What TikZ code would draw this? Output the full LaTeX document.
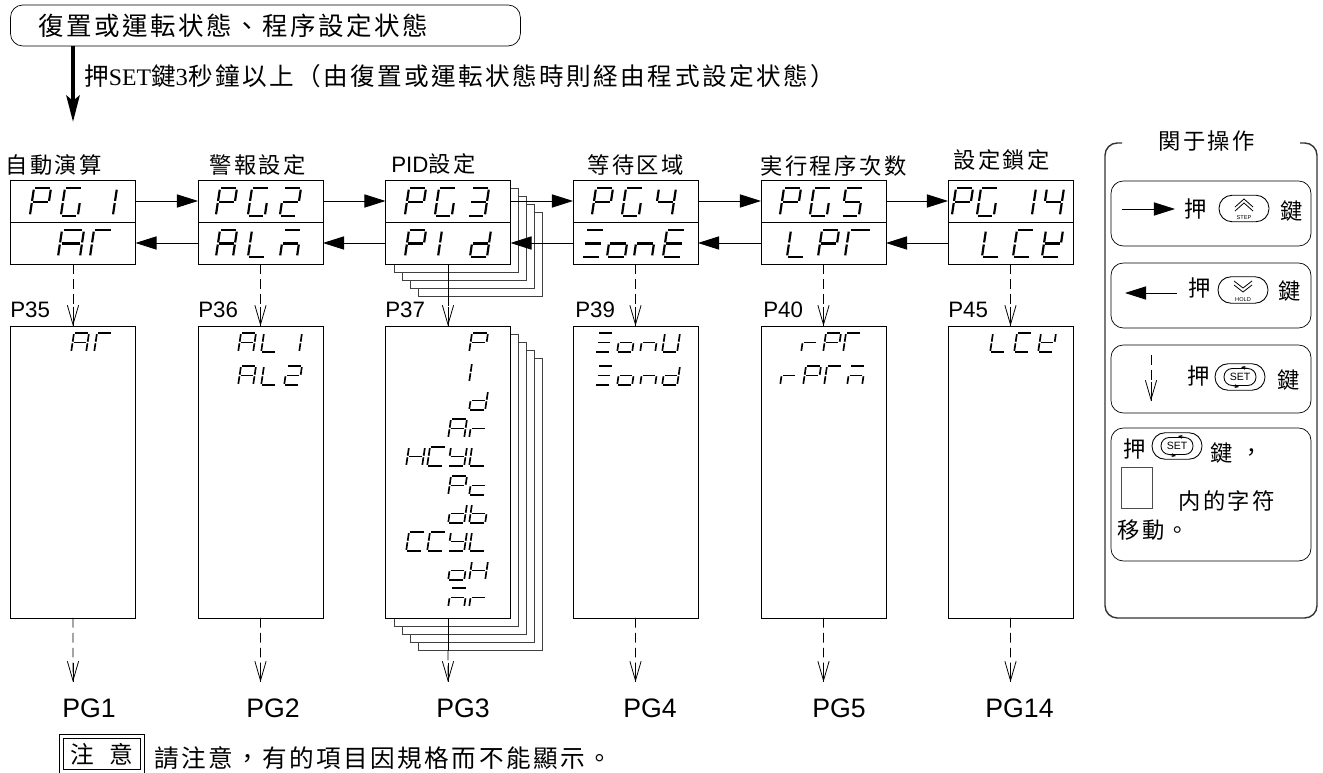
\documentclass[tikz,border=0pt]{standalone}
\usepackage{fontspec}
\usetikzlibrary{arrows.meta}
\setmainfont{Liberation Sans}
\newfontfamily\cjk[LetterSpace=11]{Noto Sans CJK TC}
\newfontfamily\cjkwide[LetterSpace=10]{Noto Sans CJK TC}
\newfontfamily\serifrm{Liberation Serif}

% seven segments: a top, b c right, d bottom, e f left, g middle
\newcommand{\sega}{\draw[segline] (.08,0) -- (.92,0);}
\newcommand{\segb}{\draw[segline] (1,.06) -- (1,.46);}
\newcommand{\segc}{\draw[segline] (1,.54) -- (1,.94);}
\newcommand{\segd}{\draw[segline] (.08,1) -- (.92,1);}
\newcommand{\sege}{\draw[segline] (0,.54) -- (0,.94);}
\newcommand{\segf}{\draw[segline] (0,.06) -- (0,.46);}
\newcommand{\segg}{\draw[segline] (.08,.5) -- (.92,.5);}
\newcommand{\segdraw}[1]{\ifx#1.\else\csname seg#1\endcsname\expandafter\segdraw\fi}
% width, height, top edge, list of left edge/segments
\newcommand{\sevenseg}[4]{%
  \foreach \segx/\segcode in {#4}{
    \begin{scope}[shift={(\segx,#3)},xslant=0.15,xscale=#1,yscale=#2]
      \expandafter\segdraw\segcode.
    \end{scope}
  }}

\tikzset{
  segline/.style={line width=1.25pt},
  captext/.style={font=\fontsize{12.7}{15}\selectfont,anchor=west,inner sep=0pt},
  bigtext/.style={font=\fontsize{14}{17}\selectfont,anchor=west,inner sep=0pt},
  pgcap/.style={font=\fontsize{15.2}{18}\selectfont,anchor=west,inner sep=0pt},
  showcell/.style={draw,anchor=north west,minimum width=2.5cm,minimum height=0.84cm,inner sep=0pt,outer sep=0pt,fill=white},
  listcard/.style={draw,anchor=north west,minimum width=2.5cm,minimum height=5.84cm,inner sep=0pt,outer sep=0pt,fill=white},
  pidcard/.style={draw=black!75,anchor=north west,minimum width=2.5cm,minimum height=1.68cm,inner sep=0pt,fill=white},
  movearrow/.style={-{Triangle[length=12pt,width=7.5pt]},line width=0.5pt},
  gotoarrow/.style={-{Straight Barb[length=11pt,width=6.4pt]},line width=0.45pt,dash pattern=on 5.5pt off 3pt},
  thinline/.style={line width=0.45pt},
  helpbox/.style={draw,anchor=north west,minimum width=4cm,rounded corners=7pt,inner sep=0pt,outer sep=0pt},
  keyshape/.style={draw,minimum width=1cm,minimum height=0.53cm,rounded corners=7.4pt,inner sep=0pt,line width=0.5pt},
  stepkey/.pic={
    \node[keyshape] (-body) at (0,0) {};
    \draw[thinline] (-9,-1.5) -- (0,-9.5) -- (9,-1.5);
    \draw[thinline] (-9,2.5) -- (0,-5.5) -- (9,2.5);
    \node[font=\fontsize{3.2}{4}\selectfont,inner sep=0pt] (-text) at (0,9.3) {STEP};
  },
  holdkey/.pic={
    \node[keyshape] (-body) at (0,0) {};
    \draw[thinline] (-9,-9) -- (0,-2) -- (9,-9);
    \draw[thinline] (-9,-5) -- (0,2) -- (9,-5);
    \node[font=\fontsize{3.2}{4}\selectfont,inner sep=0pt] (-text) at (0,9.3) {HOLD};
  },
  setkey/.pic={
    \node[keyshape] (-body) at (0,0) {};
    \node[draw,minimum width=0.64cm,minimum height=0.34cm,rounded corners=4.7pt,inner sep=0pt,line width=0.5pt,font=\fontsize{6}{7}\selectfont] (-text) at (0,0) {SET};
    \draw[-{Stealth[length=2.5pt,width=2.2pt]},thinline] (8,-8.5) -- (1,-10);
    \draw[-{Stealth[length=2.5pt,width=2.2pt]},thinline] (-8,8.5) -- (-1,10);
  }
}

\begin{document}
\begin{tikzpicture}[x=0.02cm,y=-0.02cm]
  \useasboundingbox (0,0) rectangle (1323,773);

  % Entrada
  \node[draw,anchor=north west,minimum width=10.2cm,minimum height=0.82cm,rounded corners=7pt,inner sep=0pt,outer sep=0pt] (topbox) at (10.5,5) {};
  \node[bigtext,font=\fontsize{14.5}{17}\selectfont] (toptext) at (38,26) {\cjkwide 復置或運転状態、程序設定状態};
  \coordinate (enter) at (73,122);
  \draw[-{Stealth[length=15pt,width=7.5pt,inset=3pt]},line width=2.5pt] (topbox.south -| enter) -- (enter);
  \node[bigtext] (entertext) at (84,76) {{\cjkwide 押}{\serifrm\fontsize{13.5}{15}\selectfont SET}{\cjkwide 鍵}{\serifrm 3}{\cjkwide 秒鐘以上（由復置或運転状態時則経由程式設定状態）}};

  % Titols
  \node[captext] (capA) at (5,165) {\cjk 自動演算};
  \node[captext] (capB) at (209,165) {\cjk 警報設定};
  \node[captext] (capC) at (391,164) {PID{\cjk 設定}};
  \node[captext] (capD) at (587,165) {\cjk 等待区域};
  \node[captext] (capE) at (760,166) {\cjk 実行程序次数};
  \node[captext] (capF) at (953,160) {\cjk 設定鎖定};

  % Cartes apilades de PG3
  \foreach \k in {4,3,2,1}{
    \node[pidcard] (pidcard\k) at ({385.5+8*\k},{180+8*\k}) {};
    \node[pidcard,minimum height=5.84cm] (listcard\k) at ({385.5+8*\k},{326+8*\k}) {};
  }

  % Columnes
  \foreach \n/\x in {1/10.5,2/198,3/385.5,4/573,5/761,14/948}{
    \node[showcell] (pg\n) at (\x,180) {};
    \node[showcell] (sub\n) at (\x,222) {};
    \node[listcard] (list\n) at (\x,326) {};
    \coordinate (end\n) at ({\x+62.5},682);
  }
  \node[captext] (pageA) at (10,310) {P35};
  \node[captext] (pageB) at (198,310) {P36};
  \node[captext] (pageC) at (385,310) {P37};
  \node[captext] (pageD) at (575,310) {P39};
  \node[captext] (pageE) at (763,310) {P40};
  \node[captext] (pageF) at (948,310) {P45};

  % Fletxes horitzontals
  \foreach \a/\b in {1/2,2/3,3/4,4/5,5/14}{
    \draw[movearrow] (pg\a) -- (pg\b);
    \draw[movearrow] (sub\b) -- (sub\a);
  }

  % Fletxes verticals
  \foreach \n in {1,2,4,5,14}{
    \draw[gotoarrow] (sub\n) -- (list\n);
    \draw[thinline] ([yshift=11pt]list\n.north) -- (list\n.north);
    \draw[gotoarrow] (list\n) -- (end\n);
    \draw[thinline] ([yshift=11pt]end\n) -- (end\n);
  }
  \draw[thinline] (sub3) -- (sub3 |- pidcard4.south);
  \draw[gotoarrow] (sub3 |- pidcard4.south) -- (list3);
  \draw[thinline] ([yshift=11pt]list3.north) -- (list3.north);
  \draw[thinline] (list3) -- (list3 |- listcard4.south);
  \draw[gotoarrow] (list3 |- listcard4.south) -- (end3);
  \draw[thinline] ([yshift=11pt]end3) -- (end3);

  % Pantalles de dalt
  \sevenseg{17}{28}{188}{34/abefg,65/acdef,100/bc}
  \sevenseg{22}{27}{230}{62/abcefg}
  \sevenseg{18}{27}{230}{94/aef}
  \sevenseg{17}{28}{188}{220/abefg,252/acdef,284/abdeg}
  \sevenseg{17}{27}{230}{220/abcefg,252/def,284/aceg}
  \sevenseg{17}{28}{188}{409/abefg,439/acdef,472/abcdg}
  \sevenseg{17}{27}{230}{409/abefg,442/ef,474/bcdeg}
  \sevenseg{17}{28}{188}{596/abefg,626/acdef,659/bcfg}
  \sevenseg{18}{27}{230}{586/adg,611/cdeg,638/ceg,667/adefg}
  \sevenseg{17}{28}{188}{784/abefg,814/acdef,846/acdfg}
  \sevenseg{17}{27}{230}{791/def,822/abefg}
  \sevenseg{23}{27}{230}{849/aef}
  \sevenseg{17}{28}{188}{956/abefg,981/acdef,1019/bc,1047/bcfg}
  \sevenseg{17}{27}{230}{986/def,1017/adef,1046/bdefg}

  % Pantalles de les llistes
  \begin{scope}[segline/.style={line width=0.95pt}]
    \sevenseg{15}{19}{333}{74/abcefg,97/aef}
    \sevenseg{15}{19}{333}{241/abcefg,264/def,287/bc}
    \sevenseg{15}{19}{366}{241/abcefg,264/def,287/abdeg}
    \sevenseg{16}{19}{333}{472/abefg}
    \sevenseg{16}{19}{363}{472/ef}
    \sevenseg{16}{19}{391}{472/bcdeg}
    \sevenseg{16}{19}{419}{451/abcefg,472/eg}
    \sevenseg{16}{19}{447}{409/bcefg,430/adef,451/bcdfg,472/def}
    \sevenseg{16}{19}{476}{451/abefg,472/deg}
    \sevenseg{16}{19}{504}{451/bcdeg,472/cdefg}
    \sevenseg{16}{19}{532}{409/adef,430/adef,451/bcdfg,472/def}
    \sevenseg{16}{19}{561}{451/cdeg,472/bcefg}
    \sevenseg{16}{19}{588}{451/aceg,472/eg}
    \sevenseg{15}{19}{333}{598/adg,620/cdeg,643/ceg,665/bcdef}
    \sevenseg{15}{19}{366}{598/adg,620/cdeg,643/ceg,665/bcdeg}
    \sevenseg{15}{19}{333}{804/eg,826/abefg,846/aef}
    \sevenseg{15}{19}{366}{783/eg,806/abefg,827/aef,850/aceg}
    \sevenseg{15}{19}{333}{993/def,1017/adef,1041/bdefg}
  \end{scope}

  % Noms de grup
  \node[pgcap] (pgnameA) at (62,708) {PG1};
  \node[pgcap] (pgnameB) at (246,708) {PG2};
  \node[pgcap] (pgnameC) at (436,708) {PG3};
  \node[pgcap] (pgnameD) at (623,708) {PG4};
  \node[pgcap] (pgnameE) at (812,708) {PG5};
  \node[pgcap] (pgnameF) at (985,708) {PG14};

  % Nota
  \node[draw,double,double distance=1.7pt,anchor=north west,minimum width=1.62cm,minimum height=0.7cm,inner sep=0pt,font=\fontsize{13.5}{15}\selectfont] (notebox) at (61,736) {\cjk 注\hspace{9pt}意};
  \node[bigtext] (notetext) at (154,758) {\cjkwide 請注意，有的項目因規格而不能顯示。};

  % Ajuda de la dreta
  \draw[rounded corners=7pt,line width=0.8pt,black!80] (1122,143) -| (1105,618) -| (1317,143) -- (1300,143);
  \node[captext] (helptitle) at (1158,141) {\cjk 関于操作};

  \node[helpbox,minimum height=1.3cm] (helpA) at (1111,181) {};
  \node[helpbox,minimum height=1.3cm] (helpB) at (1111,263) {};
  \node[helpbox,minimum height=1.36cm] (helpC) at (1111,345) {};
  \node[helpbox,minimum height=2.66cm] (helpD) at (1111,428) {};

  \coordinate (markAa) at (1122,209);
  \coordinate (markAb) at (1175,209);
  \draw[movearrow] (markAa) -- (markAb);
  \node[captext] (pressA) at (1184,209) {\cjk 押};
  \pic (keyA) at (1244,208.5) {stepkey};
  \node[captext] (wordA) at (1280,211) {\cjk 鍵};

  \coordinate (markBa) at (1177,293);
  \coordinate (markBb) at (1125,293);
  \draw[movearrow] (markBa) -- (markBb);
  \node[captext] (pressB) at (1188,288) {\cjk 押};
  \pic (keyB) at (1243,290) {holdkey};
  \node[captext] (wordB) at (1278,291) {\cjk 鍵};

  \coordinate (markCa) at (1151,355);
  \coordinate (markCb) at (1151,401);
  \draw[gotoarrow] (markCa) -- (markCb);
  \draw[thinline] ([yshift=11pt]markCb) -- (markCb);
  \node[captext] (pressC) at (1187,376) {\cjk 押};
  \pic (keyC) at (1240,377) {setkey};
  \node[captext] (wordC) at (1277,380) {\cjk 鍵};

  \node[captext] (pressD) at (1123,449) {\cjk 押};
  \pic (keyD) at (1177,446) {setkey};
  \node[captext] (wordD) at (1210,453) {\cjk 鍵};
  \node[captext] (commaD) at (1240,455) {\cjk ，};
  \node[draw=black!70,anchor=north west,minimum width=0.62cm,minimum height=0.82cm,inner sep=0pt] (frameD) at (1121,467) {};
  \node[captext] (restD) at (1178,501) {\cjk 内的字符};
  \node[captext] (moveD) at (1117,530) {\cjk 移動。};
\end{tikzpicture}
\end{document}
